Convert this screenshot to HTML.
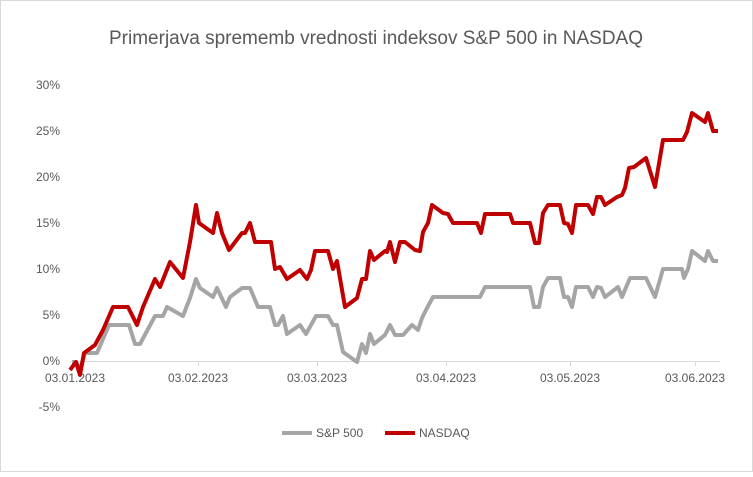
<!DOCTYPE html>
<html><head><meta charset="utf-8"><style>
body{margin:0;background:#fff;}
svg text{font-family:"Liberation Sans",Arial,sans-serif;fill:#595959;}
</style></head><body>
<svg width="753" height="472" viewBox="0 0 753 472" xmlns="http://www.w3.org/2000/svg">
<rect x="0.5" y="0.5" width="752" height="471" fill="#fff" stroke="#d9d9d9"/>
<text x="376" y="44" font-size="19" text-anchor="middle">Primerjava sprememb vrednosti indeksov S&amp;P 500 in NASDAQ</text>
<g font-size="12" text-anchor="end">
<text x="60" y="89">30%</text><text x="60" y="135">25%</text><text x="60" y="181">20%</text>
<text x="60" y="227">15%</text><text x="60" y="273">10%</text><text x="60" y="319">5%</text>
<text x="60" y="365">0%</text><text x="60" y="411">-5%</text>
</g>
<line x1="70" y1="361.5" x2="720" y2="361.5" stroke="#d9d9d9"/>
<g stroke="#d9d9d9"><line x1="198.5" y1="361" x2="198.5" y2="366"/><line x1="317.5" y1="361" x2="317.5" y2="366"/><line x1="446.5" y1="361" x2="446.5" y2="366"/><line x1="570.5" y1="361" x2="570.5" y2="366"/><line x1="695.5" y1="361" x2="695.5" y2="366"/></g>
<g font-size="12" text-anchor="middle">
<text x="75" y="382">03.01.2023</text><text x="198" y="382">03.02.2023</text><text x="317" y="382">03.03.2023</text>
<text x="446" y="382">03.04.2023</text><text x="570" y="382">03.05.2023</text><text x="695" y="382">03.06.2023</text>
</g>
<polyline fill="none" stroke="#a5a5a5" stroke-width="4" stroke-linejoin="round" points="72,362 76,362 80,370 85,353 97,353 109,325 129,325 135,344 140,344 155,316 163,316 167,307 183,316 190,298 196,279 200,288 213,297 217,288 226,307 230,297 242,288 250,288 258,307 270,307 275,325 278,325 283,316 287,334 300,325 306,334 316,316 328,316 333,325 337,325 343,352 357,362 362,344 366,353 370,334 374,344 385,335 390,325 395,335 403,335 412,325 418,330 422,318 427,308 433,297 480,297 485,287 530,287 534,307 539,307 543,287 548,278 560,278 564,297 568,297 572,307 576,287 588,287 593,297 597,287 601,288 605,297 618,287 622,297 630,278 646,278 655,297 663,269 682,269 684,278 688,269 692,251 705,261 708,251 713,261 718,261"/>
<polyline fill="none" stroke="#c00000" stroke-width="4" stroke-linejoin="round" points="70,370 76,362 80,375 84,353 95,345 103,330 113,307 128,307 137,325 143,307 155,279 160,287 170,262 183,278 190,242 196,205 199,223 213,233 217,213 222,233 229,250 242,233 245,233 250,223 255,242 271,242 275,269 280,267 287,279 300,270 307,279 311,270 315,251 328,251 333,269 337,261 345,307 357,298 362,279 366,279 370,251 374,260 385,251 387,252 390,242 395,262 400,242 405,242 415,250 420,251 423,232 428,223 432,205 443,213 448,214 453,223 477,223 481,233 485,214 510,214 513,223 530,223 535,243 539,243 543,213 548,205 560,205 564,223 568,224 572,233 576,205 588,205 593,214 597,197 601,197 605,205 617,197 622,195 625,188 629,168 634,167 646,158 655,187 663,140 683,140 687,132 692,113 705,122 708,113 713,131 718,131"/>
<line x1="282" y1="433" x2="312" y2="433" stroke="#a5a5a5" stroke-width="4"/>
<text x="316" y="437" font-size="12" fill="#595959">S&amp;P 500</text>
<line x1="385" y1="433" x2="415" y2="433" stroke="#c00000" stroke-width="4"/>
<text x="419" y="437" font-size="12">NASDAQ</text>
</svg>
</body></html>
